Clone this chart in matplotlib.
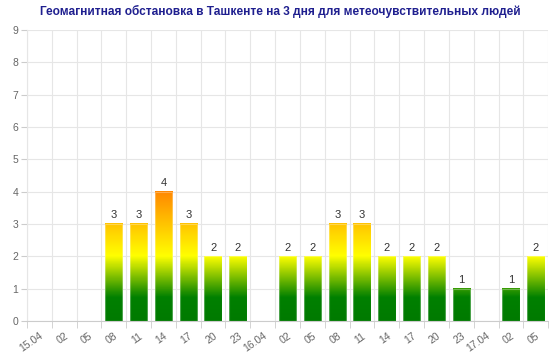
import numpy as np
import matplotlib
matplotlib.use("Agg")
import matplotlib.pyplot as plt
from matplotlib.colors import LinearSegmentedColormap, Normalize
from matplotlib.patches import Rectangle

plt.rcParams['font.family'] = ['Liberation Sans', 'DejaVu Sans']

title = "Геомагнитная обстановка в Ташкенте на 3 дня для метеочувствительных людей"
labels = ["15.04", "02", "05", "08", "11", "14", "17", "20", "23",
          "16.04", "02", "05", "08", "11", "14", "17", "20", "23",
          "17.04", "02", "05"]
kp = [0, 0, 0, 3, 3, 4, 3, 2, 2,
      0, 2, 2, 3, 3, 2, 2, 2, 1,
      0, 1, 2]

# colour depends on the level, not on the bar
cmap = LinearSegmentedColormap.from_list(
    "kp", [(0.0, "#007a00"), (0.18, "#008000"), (0.5, "#ffff00"), (1.0, "#ff8800")])
norm = Normalize(vmin=0, vmax=4)

fig = plt.figure(figsize=(5.6, 3.56), dpi=100)
ax = fig.add_axes([0.048, 0.098, 0.931, 0.818])

x = np.arange(len(kp))
w = 0.7
for i, v in enumerate(kp):
    if v <= 0:
        continue
    grad = np.linspace(0, v, 200).reshape(-1, 1)
    ax.imshow(grad, cmap=cmap, norm=norm, origin="lower", aspect="auto",
              extent=(i - w / 2, i + w / 2, 0, v), zorder=2, interpolation="bilinear")
    ax.add_patch(Rectangle((i - w / 2, 0), w, v, fill=False,
                           edgecolor=(1, 1, 1, 0.3), lw=0.8, zorder=3))
    ax.text(i, v + 0.12, str(v), ha="center", va="bottom", fontsize=8, color="#333333", zorder=4)

ax.set_xlim(-0.5, len(kp) - 0.5)
ax.set_ylim(0, 9)
ax.set_yticks(range(0, 10))
ax.set_xticks(x)
ax.set_xticklabels(labels, rotation=35, ha="right", rotation_mode="anchor")
ax.set_xticks(np.arange(-0.5, len(kp)), minor=True)

ax.grid(True, which="major", axis="y", color="#e6e6e6", lw=0.8, zorder=0)
ax.grid(True, which="minor", axis="x", color="#e6e6e6", lw=0.8, zorder=0)
ax.tick_params(axis="x", which="major", length=0, pad=7, labelsize=7.5, labelcolor="#666666")
ax.tick_params(axis="x", which="minor", length=5, color="#cccccc")
ax.tick_params(axis="y", length=4, color="#cccccc", labelsize=7.5, labelcolor="#666666", pad=2)

for s in ["top", "right"]:
    ax.spines[s].set_visible(False)
ax.spines["left"].set_color("#e6e6e6")
ax.spines["bottom"].set_color("#cccccc")

fig.text(0.5, 0.968, title, ha="center", va="center", fontsize=8.6,
         fontweight="bold", color="#1f1f8f")

fig.savefig("out.png", dpi=100)
